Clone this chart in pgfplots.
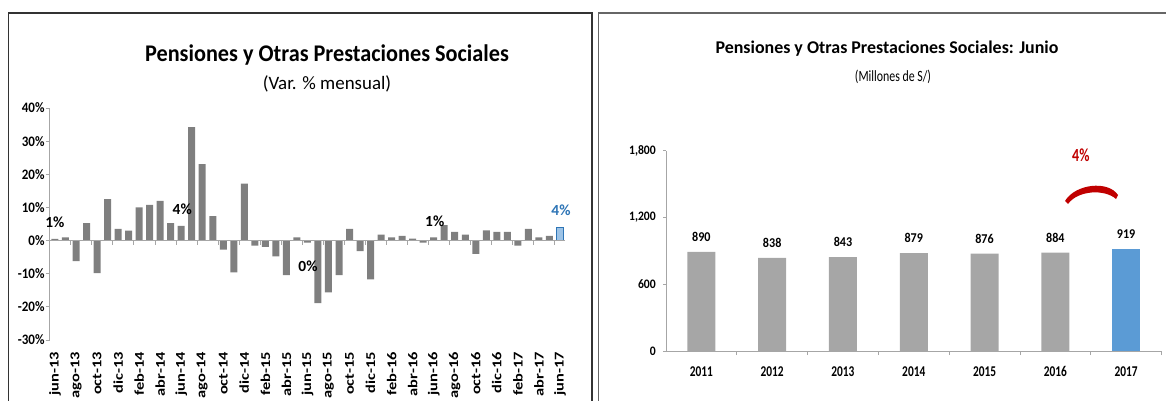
\documentclass[border=0pt]{standalone}
\usepackage{pgfplots}
\pgfplotsset{compat=1.18}
\usepackage{fontspec}
\setmainfont{Carlito}
\newfontfamily\fN[FakeStretch=0.9]{Carlito}
\newfontfamily\fT[FakeStretch=0.93]{Carlito}
\newfontfamily\fC[FakeStretch=0.76]{Carlito}
\newfontfamily\fW[FakeStretch=1.22]{Carlito}
\definecolor{barL}{HTML}{7F7F7F}
\definecolor{barR}{HTML}{A6A6A6}
\definecolor{blueR}{HTML}{5B9BD5}
\definecolor{blueLfill}{HTML}{9DC3E6}
\definecolor{blueLdraw}{HTML}{2E75B6}
\definecolor{redA}{HTML}{C00000}
\definecolor{axgray}{HTML}{A6A6A6}
\begin{document}
\begin{tikzpicture}
\path[use as bounding box] (0,0) rectangle (1166bp,-401bp);
% frames
\draw[line width=1.5bp, black!80] (8.5bp,-420bp) -- (8.5bp,-13bp) -- (592bp,-13bp) -- (592bp,-420bp);
\draw[line width=1.2bp, black!60] (598.5bp,-420bp) -- (598.5bp,-13bp) -- (1170bp,-13bp);
% titles
\node[anchor=base, inner sep=0pt, font=\fT\bfseries\fontsize{24}{26}\selectfont] at (327bp,-61bp) {Pensiones y Otras Prestaciones Sociales};
\node[anchor=base, inner sep=0pt, font=\fontsize{19}{21}\selectfont] at (327bp,-89bp) {(Var. \% mensual)};
\node[anchor=base, inner sep=0pt, font=\bfseries\fontsize{18}{20}\selectfont] at (887bp,-53.3bp) {Pensiones y Otras Prestaciones Sociales: Junio};
\node[anchor=base, inner sep=0pt, font=\fC\fontsize{15.7}{17}\selectfont] at (893bp,-81bp) {(Millones de S/)};

% ---------------- left chart
\begin{axis}[
  at={(49.7bp,-340bp)}, anchor=south west,
  scale only axis, width=515.5bp, height=232bp,
  xmin=-0.5, xmax=48.5, ymin=-30, ymax=40,
  axis y line*=left, axis x line*=bottom,
  x axis line style={draw=none},
  y axis line style={draw=axgray, line width=0.8bp},
  ytick={-30,-20,...,40},
  yticklabel={\pgfmathprintnumber[assume math mode=true]{\tick}\%},
  yticklabel style={font=\fN\bfseries\fontsize{14.5}{15}\selectfont, inner sep=1bp},
  tick align=outside, major tick length=4bp,
  ytick style={draw=axgray, line width=0.8bp},
  xtick={0,2,...,48},
  xticklabels={jun-13,ago-13,oct-13,dic-13,feb-14,abr-14,jun-14,ago-14,oct-14,dic-14,feb-15,abr-15,jun-15,ago-15,oct-15,dic-15,feb-16,abr-16,jun-16,ago-16,oct-16,dic-16,feb-17,abr-17,jun-17},
  xtick style={draw=none},
  xticklabel style={rotate=90, anchor=east, font=\fW\bfseries\fontsize{13.5}{14}\selectfont, inner sep=0pt, xshift=-8bp},
  ybar, bar width=7bp, bar shift=0pt,
  clip=false,
]
\addplot[fill=barL, draw=none] coordinates {
(0,0.5) (1,1.0) (2,-6.2) (3,5.3) (4,-9.8) (5,12.5) (6,3.5) (7,3.0) (8,10.0) (9,10.8)
(10,12.0) (11,5.3) (12,4.4) (13,34.2) (14,23.1) (15,7.4) (16,-2.7) (17,-9.6) (18,17.2) (19,-1.5)
(20,-1.9) (21,-4.8) (22,-10.4) (23,1.0) (24,-0.6) (25,-18.9) (26,-15.6) (27,-10.4) (28,3.5) (29,-3.2)
(30,-11.7) (31,1.8) (32,1.0) (33,1.4) (34,0.6) (35,-0.6) (36,1.0) (37,4.7) (38,2.6) (39,1.8)
(40,-4.0) (41,3.1) (42,2.6) (43,2.6) (44,-1.5) (45,3.5) (46,1.0) (47,1.4)
};
\addplot[fill=blueLfill, draw=blueLdraw, line width=0.8bp] coordinates {(48,3.9)};
\draw[axgray, line width=0.8bp] (axis cs:-0.5,0) -- (axis cs:48.5,0);
\pgfplotsinvokeforeach{1.5,3.5,...,47.5}{\draw[axgray, line width=0.8bp] (axis cs:#1,0) -- ++(0pt,-4bp);}
\node[font=\bfseries\fontsize{15.5}{16}\selectfont] at (axis cs:0,5.5) {1\%};
\node[font=\bfseries\fontsize{15.5}{16}\selectfont] at (axis cs:12.1,9.6) {4\%};
\node[font=\bfseries\fontsize{15.5}{16}\selectfont] at (axis cs:24.05,-7.6) {0\%};
\node[font=\bfseries\fontsize{15.5}{16}\selectfont] at (axis cs:36.1,5.8) {1\%};
\node[font=\bfseries\fontsize{15.5}{16}\selectfont, text=blueLdraw] at (axis cs:48.1,9.1) {4\%};
\end{axis}

% ---------------- right chart
\begin{axis}[
  at={(666bp,-351bp)}, anchor=south west,
  scale only axis, width=495.5bp, height=200.3bp,
  xmin=-0.5, xmax=6.5, ymin=0, ymax=1800,
  axis y line*=left, axis x line*=bottom,
  axis line style={draw=axgray, line width=0.8bp},
  ytick={0,600,1200,1800},
  yticklabel={\pgfmathprintnumber[assume math mode=true, 1000 sep={,}]{\tick}},
  yticklabel style={font=\fN\bfseries\fontsize{13}{14}\selectfont, inner sep=1bp, xshift=-6bp},
  tick align=outside, major tick length=3bp, minor tick length=4bp,
  ytick style={draw=axgray, line width=0.8bp},
  xtick={0,...,6},
  xticklabels={2011,2012,2013,2014,2015,2016,2017},
  major x tick style={draw=none},
  minor xtick={0.5,1.5,...,6.5},
  minor x tick style={draw=axgray, line width=0.8bp},
  xticklabel style={font=\fC\bfseries\fontsize{15}{16}\selectfont, inner sep=0pt, yshift=-12bp},
  ybar, bar width=28bp, bar shift=0pt,
  nodes near coords={\pgfmathprintnumber[assume math mode=true]{\pgfplotspointmeta}},
  every node near coord/.append style={font=\fN\bfseries\fontsize{13.5}{14}\selectfont, text=black, inner sep=0pt, yshift=10bp},
  clip=false,
]
\addplot[fill=barR, draw=none] coordinates {(0,890) (1,838) (2,843) (3,879) (4,876) (5,884)};
\addplot[fill=blueR, draw=none] coordinates {(6,919)};
\node[font=\fC\bfseries\fontsize{18.5}{19}\selectfont, text=redA] at (axis cs:5.36,1755) {4\%};
\end{axis}
% red arc annotation
\fill[redA] (1065bp,-201bp) .. controls (1075bp,-184bp) and (1108bp,-180bp) .. (1118bp,-195bp)
  -- (1116bp,-199bp) .. controls (1105bp,-189bp) and (1078bp,-190bp) .. (1068bp,-204bp) -- cycle;
\end{tikzpicture}
\end{document}
